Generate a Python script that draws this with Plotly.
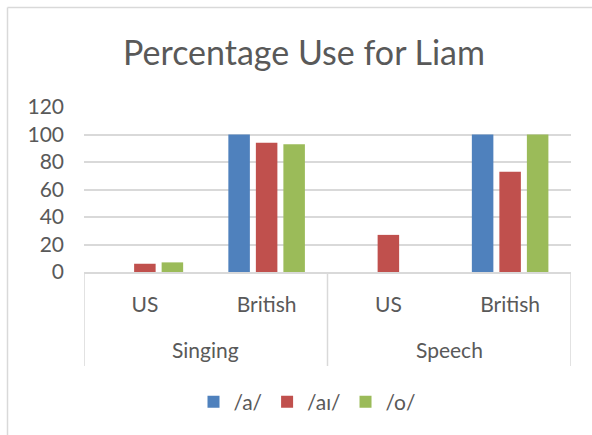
import plotly.graph_objects as go

# Data
groups = ["Singing", "Singing", "Speech", "Speech"]
accents = ["US", "British", "US", "British"]
series_names = ["/a/", "/aɪ/", "/o/"]
vals_a = [0, 100, 0, 100]
vals_ai = [6, 94, 27, 73]
vals_o = [7, 93, 0, 100]
colors = ["#4F81BD", "#C0504D", "#9BBB59"]
y_ticks = [0, 20, 40, 60, 80, 100, 120]

FONT = "Lato, 'Open Sans', sans-serif"
TXT = "#595959"
GRID = "#D9D9D9"

xpos = list(range(len(accents)))

fig = go.Figure()
for name, vals, c in zip(series_names, [vals_a, vals_ai, vals_o], colors):
    fig.add_trace(go.Bar(x=xpos, y=vals, name=name,
                         marker=dict(color=c, line=dict(width=0))))

W, H = 592, 435
L, R, T, B = 84, 21, 107, 163
pw, ph = W - L - R, H - T - B

def px(x):
    return (x - L) / pw

def py(y):
    return (H - B - y) / ph

# group labels and dividers
uniq = []
for g in groups:
    if g not in uniq:
        uniq.append(g)
annotations = []
shapes = []
bounds = [-0.5]
for g in uniq:
    idx = [i for i, gg in enumerate(groups) if gg == g]
    annotations.append(dict(text=g, x=sum(idx) / len(idx), xref="x", y=py(349.5), yref="paper",
                            xanchor="center", yanchor="middle", showarrow=False,
                            font=dict(family=FONT, size=21, color=TXT)))
    bounds.append(max(idx) + 0.5)
for b in bounds:
    shapes.append(dict(type="line", xref="x", yref="paper", x0=b, x1=b, y0=py(272), y1=py(366),
                       line=dict(color=GRID, width=1.5)))

# chart frame
shapes += [
    dict(type="line", xref="paper", yref="paper", x0=px(7.5), x1=px(7.5), y0=py(7.5), y1=py(440),
         line=dict(color=GRID, width=1.5)),
    dict(type="line", xref="paper", yref="paper", x0=px(7.5), x1=px(600), y0=py(7.5), y1=py(7.5),
         line=dict(color=GRID, width=1.5)),
]

fig.update_layout(
    width=W, height=H,
    margin=dict(l=L, r=R, t=T, b=B, autoexpand=False),
    paper_bgcolor="white", plot_bgcolor="white",
    font=dict(family=FONT, size=21, color=TXT),
    barmode="group", bargap=0.322, bargroupgap=0.218,
    title=dict(text="Percentage Use for Liam", font=dict(family=FONT, size=34, color=TXT),
               xref="container", x=304 / W, xanchor="center",
               yref="container", y=1 - 53 / H, yanchor="middle"),
    showlegend=True,
    legend=dict(orientation="h", x=px(307), xanchor="center", y=py(402), yanchor="middle",
                font=dict(family=FONT, size=21, color=TXT), itemwidth=30,
                bgcolor="rgba(0,0,0,0)"),
    xaxis=dict(range=[-0.5, len(accents) - 0.5], tickvals=xpos, ticktext=accents,
               showline=True, linecolor=GRID, linewidth=1.5, showgrid=False, zeroline=False,
               ticklabelstandoff=13, tickfont=dict(family=FONT, size=21, color=TXT)),
    yaxis=dict(range=[0, 120], tickvals=y_ticks, showgrid=True, gridcolor=GRID, gridwidth=1.5,
               zeroline=False, showline=False, ticklabelstandoff=19,
               tickfont=dict(family=FONT, size=21, color=TXT)),
    shapes=shapes,
    annotations=annotations,
)

fig.write_html("out.html")
